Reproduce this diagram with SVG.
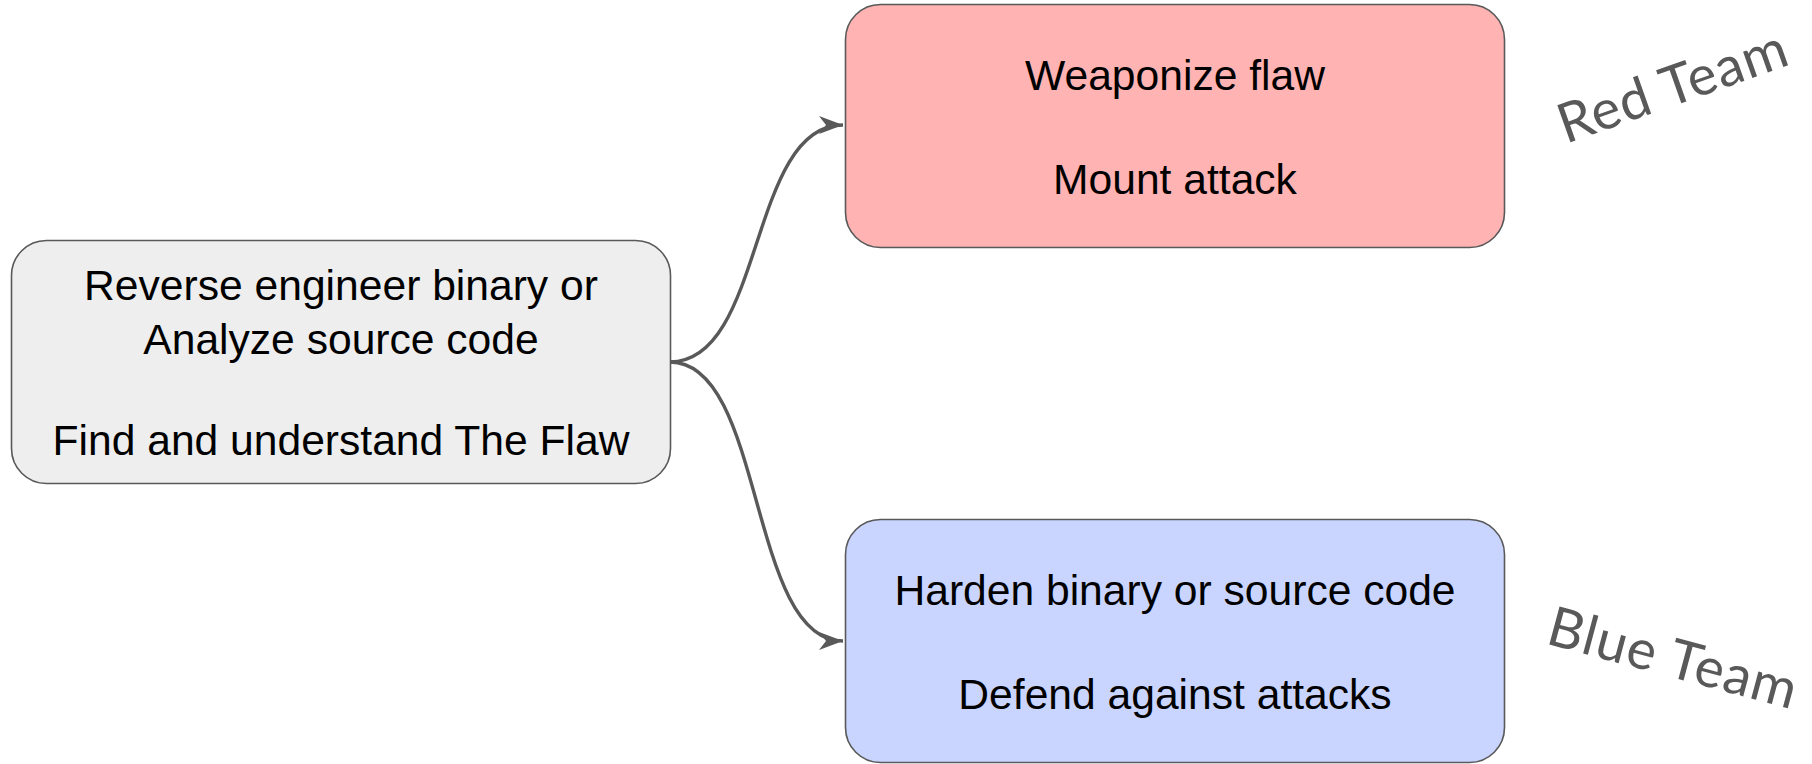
<svg xmlns="http://www.w3.org/2000/svg" width="1812" height="764" viewBox="0 0 1812 764">
<style>
.box{stroke:#595959;stroke-width:1.6}
.t{font-family:"Liberation Sans",Arial,sans-serif;font-size:42.6px;fill:#000;text-anchor:middle}
.team{font-family:Lato,"Noto Sans",sans-serif;font-size:55px;fill:#595959;text-anchor:middle;letter-spacing:1px}
.conn{fill:none;stroke:#595959;stroke-width:3.4}
</style>
<defs>
<marker id="arr" markerWidth="26" markerHeight="20" refX="24" refY="10" orient="auto" markerUnits="userSpaceOnUse" viewBox="0 0 26 20">
<path d="M0,1 L24,10 L0,19 L7,10 Z" fill="#595959"/>
</marker>
</defs>
<rect width="1812" height="764" fill="#fff"/>
<g id="connectors">
<path class="conn" d="M670,362 C765,362 748,125 843,125" marker-end="url(#arr)"/>
<path class="conn" d="M670,362 C765,362 748,641 843,641" marker-end="url(#arr)"/>
</g>
<g id="source">
<rect class="box" x="11.5" y="240.5" width="659" height="243" rx="35" fill="#eeeeee"/>
<text class="t" x="341" y="300">Reverse engineer binary or</text>
<text class="t" x="341" y="354">Analyze source code</text>
<text class="t" x="341" y="455">Find and understand The Flaw</text>
</g>
<g id="red">
<rect class="box" x="845.5" y="4.5" width="659" height="243" rx="35" fill="#ffb3b3"/>
<text class="t" x="1175" y="90">Weaponize flaw</text>
<text class="t" x="1175" y="194">Mount attack</text>
</g>
<g id="blue">
<rect class="box" x="845.5" y="519.5" width="659" height="243" rx="35" fill="#c9d5ff"/>
<text class="t" x="1175" y="605">Harden binary or source code</text>
<text class="t" x="1175" y="709">Defend against attacks</text>
</g>
<g id="redteam">
<text class="team" transform="translate(1673,87) rotate(-19.5)" y="18">Red Team</text>
</g>
<g id="blueteam">
<text class="team" transform="translate(1673,659) rotate(15)" y="18">Blue Team</text>
</g>
</svg>
